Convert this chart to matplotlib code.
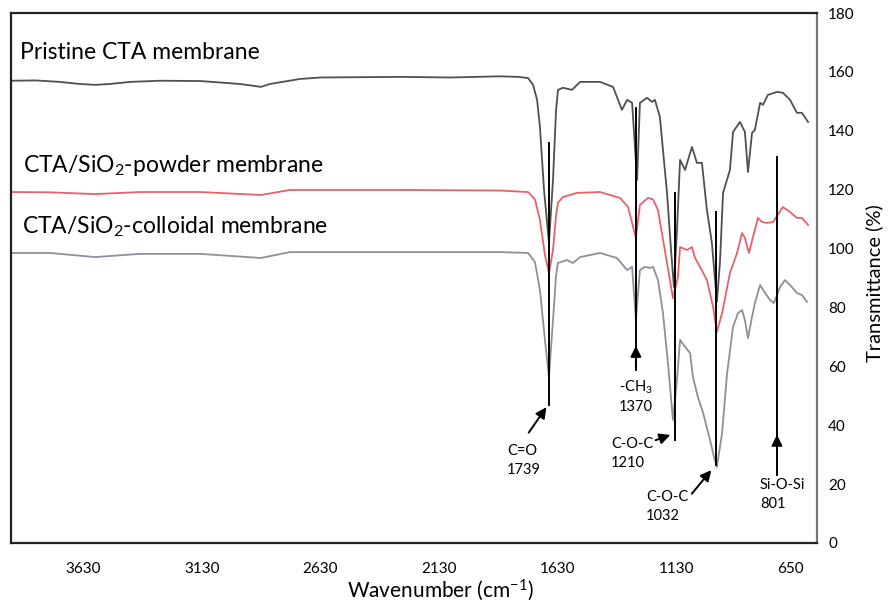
import matplotlib
matplotlib.use("Agg")
import matplotlib.pyplot as plt

plt.rcParams['font.family'] = ['Lato', 'DejaVu Sans']
plt.rcParams['mathtext.fontset'] = 'custom'
plt.rcParams['mathtext.rm'] = 'Lato'
plt.rcParams['mathtext.it'] = 'Lato:italic'

# FTIR spectra (wavenumber cm-1, transmittance %)
wn_pristine = [3933, 3828, 3727, 3643, 3579, 3516, 3432, 3306, 3137, 2969, 2906, 2881, 2843, 2716, 2628,
               2295, 2085, 1874, 1798, 1756, 1735, 1718, 1706, 1689, 1668, 1651, 1638, 1630, 1609, 1571,
               1537, 1453, 1398, 1361, 1339, 1318, 1297, 1285, 1255, 1234, 1222, 1201, 1171, 1154, 1142,
               1129, 1116, 1095, 1066, 1045, 1024, 1003, 982, 961, 948, 935, 906, 893, 864, 843,
               830, 813, 801, 779, 767, 746, 708, 683, 653, 624, 603, 577]
t_pristine = [157.0, 157.1, 156.6, 155.9, 155.6, 155.9, 156.6, 157.0, 156.9, 155.9, 155.2, 154.9, 155.9, 157.6, 158.1,
              158.3, 158.1, 158.5, 158.3, 157.9, 155.6, 150.5, 141.3, 120.1, 101.9, 123.3, 147.1, 153.9, 154.6, 153.9,
              156.6, 156.6, 154.9, 147.1, 150.5, 149.5, 123.3, 149.5, 151.2, 149.8, 150.5, 144.7, 118.9, 99.5, 87.0,
              106.3, 130.1, 126.7, 134.5, 129.1, 129.1, 113.1, 101.9, 81.9, 95.4, 118.9, 126.7, 139.6, 143.0, 139.6,
              126.0, 139.3, 140.3, 149.5, 148.8, 152.2, 153.2, 152.9, 150.5, 146.1, 146.1, 143.0]

wn_powder = [3933, 3769, 3579, 3390, 3137, 2881, 2758, 2295, 1874, 1756, 1727, 1706, 1685, 1668, 1651,
             1638, 1630, 1609, 1550, 1453, 1369, 1335, 1302, 1285, 1251, 1230, 1209, 1171, 1146, 1125,
             1116, 1087, 1066, 1053, 1032, 1003, 977, 961, 939, 906, 876, 855, 843, 826, 809,
             788, 771, 750, 725, 683, 653, 624, 603, 577]
t_powder = [119.2, 119.1, 118.5, 119.2, 119.2, 118.2, 119.9, 119.9, 119.7, 119.2, 116.7, 109.7, 97.8, 91.7, 99.5,
            111.4, 115.6, 117.5, 118.9, 119.2, 117.2, 114.1, 103.6, 114.8, 117.2, 116.7, 113.1, 95.1, 83.2, 90.4,
            100.5, 99.5, 100.5, 96.8, 93.8, 89.3, 80.2, 71.7, 78.1, 91.7, 98.5, 105.3, 103.6, 98.5, 103.9,
            110.4, 109.0, 108.7, 109.0, 114.1, 112.4, 110.4, 110.4, 108.0]

wn_colloid = [3933, 3769, 3579, 3390, 3137, 2881, 2758, 2295, 1874, 1756, 1727, 1706, 1685, 1668, 1651,
              1638, 1630, 1592, 1567, 1537, 1453, 1382, 1339, 1318, 1302, 1285, 1264, 1243, 1230, 1209,
              1188, 1167, 1146, 1129, 1116, 1095, 1074, 1062, 1041, 1019, 990, 973, 961, 939, 918,
              893, 872, 855, 843, 830, 813, 801, 779, 758, 737, 721, 695, 674, 645, 624,
              603, 582]
t_colloid = [98.5, 98.5, 97.1, 98.2, 98.2, 96.8, 98.8, 98.8, 98.8, 98.5, 95.4, 85.9, 69.0, 56.4, 75.7,
             91.0, 95.1, 96.1, 95.1, 97.1, 98.5, 96.8, 92.7, 93.8, 75.7, 92.7, 93.8, 93.4, 93.8, 89.3,
             78.1, 61.1, 41.8, 55.4, 69.0, 66.6, 64.5, 56.4, 49.6, 44.2, 35.0, 29.2, 25.8, 37.4, 57.7,
             73.4, 78.1, 79.1, 75.7, 69.6, 76.8, 81.5, 87.6, 84.9, 82.5, 81.5, 86.9, 89.3, 86.9, 84.9,
             84.2, 81.9]

x_ticks = [3630, 3130, 2630, 2130, 1630, 1130, 650]
y_ticks = [0, 20, 40, 60, 80, 100, 120, 140, 160, 180]

# peak annotations
ann_text = ['C=O\n1739', '-CH$_3$\n1370', 'C-O-C\n1210', 'C-O-C\n1032', 'Si-O-Si\n801']
ann_x = [1668, 1302, 1137, 965, 708]
ann_top = [135.9, 147.8, 118.9, 112.4, 131.1]
ann_bottom = [46.9, 58.8, 35.0, 26.5, 23.1]
arrow_tail = [(1760, 36.7), (1302, 58.8), (1230, 34.6), (1074, 16.0), (708, 23.1)]
arrow_tip = [(1672, 46.9), (1302, 67.9), (1146, 37.0), (977, 25.5), (708, 37.7)]
text_pos = [(1845, 33.6), (1302, 56.0), (1407, 36.0), (1260, 18.0), (780, 22.1)]
text_ha = ['left', 'center', 'left', 'left', 'left']

fig = plt.figure(figsize=(8.94, 6.05), dpi=100)
ax = fig.add_axes([0.0123, 0.1025, 0.9017, 0.876])

ax.plot(wn_pristine, t_pristine, color='#505050', lw=1.3)
ax.plot(wn_powder, t_powder, color='#e8606c', lw=1.3)
ax.plot(wn_colloid, t_colloid, color='#8c9099', lw=1.3)

for i in range(len(ann_x)):
    ax.plot([ann_x[i], ann_x[i]], [ann_bottom[i], ann_top[i]], color='black', lw=1.4)
    ax.annotate('', xy=arrow_tip[i], xytext=arrow_tail[i],
                arrowprops=dict(arrowstyle='-|>', color='black', lw=1.4, mutation_scale=16))
    ax.text(text_pos[i][0], text_pos[i][1], ann_text[i], ha=text_ha[i], va='top',
            fontsize=10.5, linespacing=1.45)

# series labels
ax.text(0.011, 0.926, 'Pristine CTA membrane', transform=ax.transAxes, fontsize=16.5, va='center')
ax.text(0.015, 0.713, 'CTA/SiO$_2$-powder membrane', transform=ax.transAxes, fontsize=16.5, va='center')
ax.text(0.014, 0.596, 'CTA/SiO$_2$-colloidal membrane', transform=ax.transAxes, fontsize=16.5, va='center')

ax.set_xlim(3933, 539)
ax.set_ylim(0, 180)
ax.set_xticks(x_ticks)
ax.set_yticks(y_ticks)
ax.yaxis.tick_right()
ax.yaxis.set_label_position('right')
ax.tick_params(axis='both', length=0, labelsize=11)
ax.tick_params(axis='x', pad=14)
ax.tick_params(axis='y', pad=8)
ax.set_xlabel('Wavenumber (cm$^{-1}$)', fontsize=15)
ax.xaxis.set_label_coords(0.533, -0.066)
ax.set_ylabel('Transmittance (%)', fontsize=14.5)
ax.yaxis.set_label_coords(1.06, 0.49)

for side in ['top', 'left', 'bottom']:
    ax.spines[side].set_color('#222222')
    ax.spines[side].set_linewidth(1.6)
ax.spines['right'].set_color('#777777')
ax.spines['right'].set_linewidth(1.6)

fig.savefig('out.png', dpi=100)
